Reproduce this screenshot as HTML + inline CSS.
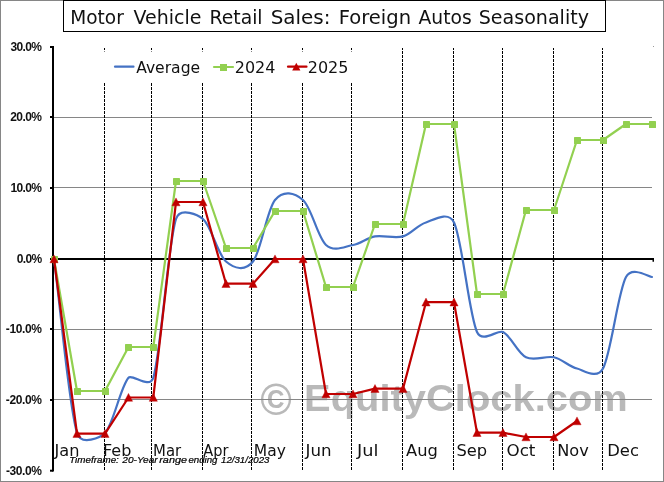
<!DOCTYPE html><html><head><meta charset="utf-8"><title>Motor Vehicle Retail Sales: Foreign Autos Seasonality</title>
<style>html,body{margin:0;padding:0;background:#fff}svg{display:block}</style></head><body>
<svg width="664" height="482" viewBox="0 0 664 482">
<rect x="0" y="0" width="664" height="482" fill="#fff"/>
<rect x="0.5" y="0.5" width="663" height="481" fill="none" stroke="#868686" stroke-width="1"/>
<text x="260.17" y="414.50" font-family="'Liberation Sans',sans-serif" font-size="44" fill="#b9b9b9" font-weight="bold" textLength="31.59" lengthAdjust="spacingAndGlyphs">©</text>
<text x="304.09" y="410.50" font-family="'Liberation Sans',sans-serif" font-size="36.8" fill="#b9b9b9" font-weight="bold" textLength="323.68" lengthAdjust="spacingAndGlyphs">EquityClock.com</text>
<line x1="54" x2="652" y1="117.5" y2="117.5" stroke="#868686" stroke-width="1"/>
<line x1="54" x2="652" y1="187.5" y2="187.5" stroke="#868686" stroke-width="1"/>
<line x1="54" x2="652" y1="329.5" y2="329.5" stroke="#868686" stroke-width="1"/>
<line x1="54" x2="652" y1="399.5" y2="399.5" stroke="#868686" stroke-width="1"/>
<line x1="104.5" x2="104.5" y1="48" y2="470" stroke="#000" stroke-width="1" stroke-dasharray="3 1" stroke-dashoffset="1"/>
<line x1="151.5" x2="151.5" y1="48" y2="470" stroke="#000" stroke-width="1" stroke-dasharray="3 1" stroke-dashoffset="1"/>
<line x1="202.5" x2="202.5" y1="48" y2="470" stroke="#000" stroke-width="1" stroke-dasharray="3 1" stroke-dashoffset="1"/>
<line x1="251.5" x2="251.5" y1="48" y2="470" stroke="#000" stroke-width="1" stroke-dasharray="3 1" stroke-dashoffset="1"/>
<line x1="302.5" x2="302.5" y1="48" y2="470" stroke="#000" stroke-width="1" stroke-dasharray="3 1" stroke-dashoffset="1"/>
<line x1="351.5" x2="351.5" y1="48" y2="470" stroke="#000" stroke-width="1" stroke-dasharray="3 1" stroke-dashoffset="1"/>
<line x1="402.5" x2="402.5" y1="48" y2="470" stroke="#000" stroke-width="1" stroke-dasharray="3 1" stroke-dashoffset="1"/>
<line x1="453.5" x2="453.5" y1="48" y2="470" stroke="#000" stroke-width="1" stroke-dasharray="3 1" stroke-dashoffset="1"/>
<line x1="502.5" x2="502.5" y1="48" y2="470" stroke="#000" stroke-width="1" stroke-dasharray="3 1" stroke-dashoffset="1"/>
<line x1="553.5" x2="553.5" y1="48" y2="470" stroke="#000" stroke-width="1" stroke-dasharray="3 1" stroke-dashoffset="1"/>
<line x1="602.5" x2="602.5" y1="48" y2="470" stroke="#000" stroke-width="1" stroke-dasharray="3 1" stroke-dashoffset="1"/>
<text x="54.51" y="455.60" font-family="'DejaVu Sans','Liberation Sans',sans-serif" font-size="16" fill="#111" textLength="24.93" lengthAdjust="spacingAndGlyphs">Jan</text>
<text x="103.00" y="455.60" font-family="'DejaVu Sans','Liberation Sans',sans-serif" font-size="16" fill="#111" textLength="28.33" lengthAdjust="spacingAndGlyphs">Feb</text>
<text x="153.10" y="455.60" font-family="'DejaVu Sans','Liberation Sans',sans-serif" font-size="16" fill="#111" textLength="28.09" lengthAdjust="spacingAndGlyphs">Mar</text>
<text x="203.27" y="455.60" font-family="'DejaVu Sans','Liberation Sans',sans-serif" font-size="16" fill="#111" textLength="25.17" lengthAdjust="spacingAndGlyphs">Apr</text>
<text x="253.80" y="455.60" font-family="'DejaVu Sans','Liberation Sans',sans-serif" font-size="16" fill="#111" textLength="32.01" lengthAdjust="spacingAndGlyphs">May</text>
<text x="305.53" y="455.60" font-family="'DejaVu Sans','Liberation Sans',sans-serif" font-size="16" fill="#111" textLength="26.02" lengthAdjust="spacingAndGlyphs">Jun</text>
<text x="357.08" y="455.60" font-family="'DejaVu Sans','Liberation Sans',sans-serif" font-size="16" fill="#111" textLength="21.40" lengthAdjust="spacingAndGlyphs">Jul</text>
<text x="406.00" y="455.60" font-family="'DejaVu Sans','Liberation Sans',sans-serif" font-size="16" fill="#111" textLength="31.78" lengthAdjust="spacingAndGlyphs">Aug</text>
<text x="456.48" y="455.60" font-family="'DejaVu Sans','Liberation Sans',sans-serif" font-size="16" fill="#111" textLength="30.69" lengthAdjust="spacingAndGlyphs">Sep</text>
<text x="506.45" y="455.60" font-family="'DejaVu Sans','Liberation Sans',sans-serif" font-size="16" fill="#111" textLength="28.99" lengthAdjust="spacingAndGlyphs">Oct</text>
<text x="557.24" y="455.60" font-family="'DejaVu Sans','Liberation Sans',sans-serif" font-size="16" fill="#111" textLength="31.50" lengthAdjust="spacingAndGlyphs">Nov</text>
<text x="607.21" y="455.60" font-family="'DejaVu Sans','Liberation Sans',sans-serif" font-size="16" fill="#111" textLength="31.78" lengthAdjust="spacingAndGlyphs">Dec</text>
<text stroke="#000" stroke-width="0.2" x="69.21" y="463.40" font-family="'Liberation Sans',sans-serif" font-size="8.3" fill="#000" font-style="italic" textLength="49.65" lengthAdjust="spacingAndGlyphs">Timeframe:</text>
<text stroke="#000" stroke-width="0.2" x="122.30" y="463.40" font-family="'Liberation Sans',sans-serif" font-size="8.3" fill="#000" font-style="italic" textLength="35.37" lengthAdjust="spacingAndGlyphs">20-Year</text>
<text stroke="#000" stroke-width="0.2" x="159.27" y="463.40" font-family="'Liberation Sans',sans-serif" font-size="8.3" fill="#000" font-style="italic" textLength="27.73" lengthAdjust="spacingAndGlyphs">range</text>
<text stroke="#000" stroke-width="0.2" x="188.51" y="463.40" font-family="'Liberation Sans',sans-serif" font-size="8.3" fill="#000" font-style="italic" textLength="28.99" lengthAdjust="spacingAndGlyphs">ending</text>
<text stroke="#000" stroke-width="0.2" x="221.01" y="463.40" font-family="'Liberation Sans',sans-serif" font-size="8.3" fill="#000" font-style="italic" textLength="48.43" lengthAdjust="spacingAndGlyphs">12/31/2023</text>
<rect x="653" y="46" width="1" height="1" fill="#9a9a9a"/>
<line x1="53" x2="53" y1="46" y2="471.5" stroke="#000" stroke-width="2"/>
<line x1="50" x2="53" y1="47.0" y2="47.0" stroke="#000" stroke-width="2"/>
<text x="10.45" y="50.80" font-family="'Liberation Sans',sans-serif" font-size="12" fill="#111" font-weight="bold" letter-spacing="-0.625">30.0%</text>
<line x1="50" x2="53" y1="117.0" y2="117.0" stroke="#000" stroke-width="2"/>
<text x="10.20" y="120.80" font-family="'Liberation Sans',sans-serif" font-size="12" fill="#111" font-weight="bold" letter-spacing="-0.562">20.0%</text>
<line x1="50" x2="53" y1="188.0" y2="188.0" stroke="#000" stroke-width="2"/>
<text x="10.45" y="191.80" font-family="'Liberation Sans',sans-serif" font-size="12" fill="#111" font-weight="bold" letter-spacing="-0.625">10.0%</text>
<line x1="50" x2="53" y1="259.0" y2="259.0" stroke="#000" stroke-width="2"/>
<text x="16.80" y="262.80" font-family="'Liberation Sans',sans-serif" font-size="12" fill="#111" font-weight="bold" letter-spacing="-0.700">0.0%</text>
<line x1="50" x2="53" y1="329.0" y2="329.0" stroke="#000" stroke-width="2"/>
<text x="5.80" y="332.80" font-family="'Liberation Sans',sans-serif" font-size="12" fill="#111" font-weight="bold" letter-spacing="-0.370">-10.0%</text>
<line x1="50" x2="53" y1="400.0" y2="400.0" stroke="#000" stroke-width="2"/>
<text x="5.80" y="403.80" font-family="'Liberation Sans',sans-serif" font-size="12" fill="#111" font-weight="bold" letter-spacing="-0.370">-20.0%</text>
<line x1="50" x2="53" y1="470.7" y2="470.7" stroke="#000" stroke-width="2"/>
<text x="6.00" y="474.50" font-family="'Liberation Sans',sans-serif" font-size="12" fill="#111" font-weight="bold" letter-spacing="-0.410">-30.0%</text>
<line x1="50" x2="654" y1="259" y2="259" stroke="#000" stroke-width="2"/>
<line x1="104.50" x2="104.50" y1="259" y2="261.7" stroke="#000" stroke-width="1.5"/>
<line x1="151.50" x2="151.50" y1="259" y2="261.7" stroke="#000" stroke-width="1.5"/>
<line x1="202.50" x2="202.50" y1="259" y2="261.7" stroke="#000" stroke-width="1.5"/>
<line x1="251.50" x2="251.50" y1="259" y2="261.7" stroke="#000" stroke-width="1.5"/>
<line x1="302.50" x2="302.50" y1="259" y2="261.7" stroke="#000" stroke-width="1.5"/>
<line x1="351.50" x2="351.50" y1="259" y2="261.7" stroke="#000" stroke-width="1.5"/>
<line x1="402.50" x2="402.50" y1="259" y2="261.7" stroke="#000" stroke-width="1.5"/>
<line x1="453.50" x2="453.50" y1="259" y2="261.7" stroke="#000" stroke-width="1.5"/>
<line x1="502.50" x2="502.50" y1="259" y2="261.7" stroke="#000" stroke-width="1.5"/>
<line x1="553.50" x2="553.50" y1="259" y2="261.7" stroke="#000" stroke-width="1.5"/>
<line x1="602.50" x2="602.50" y1="259" y2="261.7" stroke="#000" stroke-width="1.5"/>
<line x1="653.25" x2="653.25" y1="259" y2="261.7" stroke="#000" stroke-width="1.5"/>
<path d="M54.00 259.00 C61.67 317.00 68.50 404.00 77.00 433.00 C80.94 446.43 101.02 437.27 105.00 433.00 C113.58 423.78 120.45 386.92 128.50 377.70 C132.12 373.56 149.74 389.58 153.30 377.70 C161.22 351.25 167.72 245.45 176.00 219.00 C180.03 206.12 198.94 215.55 203.00 219.00 C211.33 226.08 217.67 254.42 226.00 261.50 C234.33 268.58 244.83 271.75 253.00 261.50 C261.17 251.25 266.67 210.25 275.00 200.00 C283.33 189.75 294.50 192.50 303.00 200.00 C311.50 207.50 317.67 237.50 326.00 245.00 C334.33 252.50 344.83 246.43 353.00 245.00 C361.17 243.57 366.67 237.83 375.00 236.40 C383.33 234.97 394.50 238.72 403.00 236.40 C411.50 234.08 417.50 224.82 426.00 222.50 C431.91 220.89 448.09 209.81 454.00 222.50 C462.50 240.75 468.83 313.75 477.00 332.00 C482.31 343.87 497.69 329.26 503.00 332.00 C511.17 336.22 517.50 353.08 526.00 357.30 C534.50 361.52 545.50 355.43 554.00 357.30 C562.50 359.17 568.83 366.63 577.00 368.50 C583.14 369.90 596.86 379.96 603.00 368.50 C611.17 353.25 617.83 292.25 626.00 277.00 C632.14 265.54 648.74 277.00 652.00 277.00" fill="none" stroke="#4472c4" stroke-width="2.2" stroke-linecap="round" stroke-linejoin="round"/>
<polyline points="54.00,259.00 77.00,391.00 105.00,391.00 128.50,347.00 153.30,347.00 176.00,181.00 203.00,181.00 226.00,248.00 253.00,248.00 275.00,211.00 303.00,211.00 326.00,287.00 353.00,287.00 375.00,224.00 403.00,224.00 426.00,124.00 454.00,124.00 477.00,294.00 503.00,294.00 526.00,210.00 554.00,210.00 577.00,140.00 603.00,140.00 626.00,124.00 652.00,124.00" fill="none" stroke="#92d050" stroke-width="2.2" stroke-linejoin="round" stroke-linecap="round"/>
<rect x="51.00" y="256.00" width="7" height="7" rx="0.6" fill="#92d050"/>
<rect x="74.00" y="388.00" width="7" height="7" rx="0.6" fill="#92d050"/>
<rect x="102.00" y="388.00" width="7" height="7" rx="0.6" fill="#92d050"/>
<rect x="125.00" y="344.00" width="7" height="7" rx="0.6" fill="#92d050"/>
<rect x="150.00" y="344.00" width="7" height="7" rx="0.6" fill="#92d050"/>
<rect x="173.00" y="178.00" width="7" height="7" rx="0.6" fill="#92d050"/>
<rect x="200.00" y="178.00" width="7" height="7" rx="0.6" fill="#92d050"/>
<rect x="223.00" y="245.00" width="7" height="7" rx="0.6" fill="#92d050"/>
<rect x="250.00" y="245.00" width="7" height="7" rx="0.6" fill="#92d050"/>
<rect x="272.00" y="208.00" width="7" height="7" rx="0.6" fill="#92d050"/>
<rect x="300.00" y="208.00" width="7" height="7" rx="0.6" fill="#92d050"/>
<rect x="323.00" y="284.00" width="7" height="7" rx="0.6" fill="#92d050"/>
<rect x="350.00" y="284.00" width="7" height="7" rx="0.6" fill="#92d050"/>
<rect x="372.00" y="221.00" width="7" height="7" rx="0.6" fill="#92d050"/>
<rect x="400.00" y="221.00" width="7" height="7" rx="0.6" fill="#92d050"/>
<rect x="423.00" y="121.00" width="7" height="7" rx="0.6" fill="#92d050"/>
<rect x="451.00" y="121.00" width="7" height="7" rx="0.6" fill="#92d050"/>
<rect x="474.00" y="291.00" width="7" height="7" rx="0.6" fill="#92d050"/>
<rect x="500.00" y="291.00" width="7" height="7" rx="0.6" fill="#92d050"/>
<rect x="523.00" y="207.00" width="7" height="7" rx="0.6" fill="#92d050"/>
<rect x="551.00" y="207.00" width="7" height="7" rx="0.6" fill="#92d050"/>
<rect x="574.00" y="137.00" width="7" height="7" rx="0.6" fill="#92d050"/>
<rect x="600.00" y="137.00" width="7" height="7" rx="0.6" fill="#92d050"/>
<rect x="623.00" y="121.00" width="7" height="7" rx="0.6" fill="#92d050"/>
<rect x="649.00" y="121.00" width="7" height="7" rx="0.6" fill="#92d050"/>
<polyline points="54.00,259.00 77.00,433.60 105.00,433.60 128.50,397.50 153.30,397.50 176.00,202.00 203.00,202.00 226.00,283.70 253.00,283.70 275.00,259.00 303.00,259.00 326.00,394.00 353.00,394.00 375.00,388.60 403.00,388.60 426.00,302.20 454.00,302.20 477.00,432.70 503.00,432.70 526.00,437.00 554.00,437.00 577.00,421.00" fill="none" stroke="#c00000" stroke-width="2.2" stroke-linejoin="round" stroke-linecap="round"/>
<polygon points="54.00,254.90 58.10,262.80 49.90,262.80" fill="#c00000" stroke="#c00000" stroke-width="0.4" stroke-linejoin="round"/>
<polygon points="77.00,429.50 81.10,437.40 72.90,437.40" fill="#c00000" stroke="#c00000" stroke-width="0.4" stroke-linejoin="round"/>
<polygon points="105.00,429.50 109.10,437.40 100.90,437.40" fill="#c00000" stroke="#c00000" stroke-width="0.4" stroke-linejoin="round"/>
<polygon points="128.50,393.40 132.60,401.30 124.40,401.30" fill="#c00000" stroke="#c00000" stroke-width="0.4" stroke-linejoin="round"/>
<polygon points="153.30,393.40 157.40,401.30 149.20,401.30" fill="#c00000" stroke="#c00000" stroke-width="0.4" stroke-linejoin="round"/>
<polygon points="176.00,197.90 180.10,205.80 171.90,205.80" fill="#c00000" stroke="#c00000" stroke-width="0.4" stroke-linejoin="round"/>
<polygon points="203.00,197.90 207.10,205.80 198.90,205.80" fill="#c00000" stroke="#c00000" stroke-width="0.4" stroke-linejoin="round"/>
<polygon points="226.00,279.60 230.10,287.50 221.90,287.50" fill="#c00000" stroke="#c00000" stroke-width="0.4" stroke-linejoin="round"/>
<polygon points="253.00,279.60 257.10,287.50 248.90,287.50" fill="#c00000" stroke="#c00000" stroke-width="0.4" stroke-linejoin="round"/>
<polygon points="275.00,254.90 279.10,262.80 270.90,262.80" fill="#c00000" stroke="#c00000" stroke-width="0.4" stroke-linejoin="round"/>
<polygon points="303.00,254.90 307.10,262.80 298.90,262.80" fill="#c00000" stroke="#c00000" stroke-width="0.4" stroke-linejoin="round"/>
<polygon points="326.00,389.90 330.10,397.80 321.90,397.80" fill="#c00000" stroke="#c00000" stroke-width="0.4" stroke-linejoin="round"/>
<polygon points="353.00,389.90 357.10,397.80 348.90,397.80" fill="#c00000" stroke="#c00000" stroke-width="0.4" stroke-linejoin="round"/>
<polygon points="375.00,384.50 379.10,392.40 370.90,392.40" fill="#c00000" stroke="#c00000" stroke-width="0.4" stroke-linejoin="round"/>
<polygon points="403.00,384.50 407.10,392.40 398.90,392.40" fill="#c00000" stroke="#c00000" stroke-width="0.4" stroke-linejoin="round"/>
<polygon points="426.00,298.10 430.10,306.00 421.90,306.00" fill="#c00000" stroke="#c00000" stroke-width="0.4" stroke-linejoin="round"/>
<polygon points="454.00,298.10 458.10,306.00 449.90,306.00" fill="#c00000" stroke="#c00000" stroke-width="0.4" stroke-linejoin="round"/>
<polygon points="477.00,428.60 481.10,436.50 472.90,436.50" fill="#c00000" stroke="#c00000" stroke-width="0.4" stroke-linejoin="round"/>
<polygon points="503.00,428.60 507.10,436.50 498.90,436.50" fill="#c00000" stroke="#c00000" stroke-width="0.4" stroke-linejoin="round"/>
<polygon points="526.00,432.90 530.10,440.80 521.90,440.80" fill="#c00000" stroke="#c00000" stroke-width="0.4" stroke-linejoin="round"/>
<polygon points="554.00,432.90 558.10,440.80 549.90,440.80" fill="#c00000" stroke="#c00000" stroke-width="0.4" stroke-linejoin="round"/>
<polygon points="577.00,416.90 581.10,424.80 572.90,424.80" fill="#c00000" stroke="#c00000" stroke-width="0.4" stroke-linejoin="round"/>
<rect x="100" y="51.5" width="258" height="31" fill="#fff"/>
<line x1="115" x2="133.5" y1="66.7" y2="66.7" stroke="#4472c4" stroke-width="2.2" stroke-linecap="round"/>
<text x="136.16" y="72.60" font-family="'DejaVu Sans','Liberation Sans',sans-serif" font-size="16" fill="#111" textLength="63.97" lengthAdjust="spacingAndGlyphs">Average</text>
<line x1="214" x2="233" y1="67" y2="67" stroke="#92d050" stroke-width="2.2" stroke-linecap="round"/>
<rect x="220" y="64" width="7" height="7" fill="#92d050"/>
<text x="234.75" y="72.60" font-family="'DejaVu Sans','Liberation Sans',sans-serif" font-size="16" fill="#111" textLength="40.61" lengthAdjust="spacingAndGlyphs">2024</text>
<line x1="288" x2="306.5" y1="66.7" y2="66.7" stroke="#c00000" stroke-width="2.2" stroke-linecap="round"/>
<polygon points="296.3,62.8 300.4,70.5 292.2,70.5" fill="#c00000"/>
<text x="307.75" y="72.60" font-family="'DejaVu Sans','Liberation Sans',sans-serif" font-size="16" fill="#111" textLength="40.72" lengthAdjust="spacingAndGlyphs">2025</text>
<rect x="63.5" y="0.5" width="542" height="31" fill="#fff" stroke="#000" stroke-width="1"/>
<text x="70.28" y="23.75" font-family="'DejaVu Sans','Liberation Sans',sans-serif" font-size="18.8" fill="#111" textLength="53.51" lengthAdjust="spacingAndGlyphs">Motor</text>
<text x="133.50" y="23.75" font-family="'DejaVu Sans','Liberation Sans',sans-serif" font-size="18.8" fill="#111" textLength="67.94" lengthAdjust="spacingAndGlyphs">Vehicle</text>
<text x="209.50" y="23.75" font-family="'DejaVu Sans','Liberation Sans',sans-serif" font-size="18.8" fill="#111" textLength="53.08" lengthAdjust="spacingAndGlyphs">Retail</text>
<text x="270.67" y="23.75" font-family="'DejaVu Sans','Liberation Sans',sans-serif" font-size="18.8" fill="#111" textLength="59.78" lengthAdjust="spacingAndGlyphs">Sales:</text>
<text x="338.68" y="23.75" font-family="'DejaVu Sans','Liberation Sans',sans-serif" font-size="18.8" fill="#111" textLength="72.42" lengthAdjust="spacingAndGlyphs">Foreign</text>
<text x="418.50" y="23.75" font-family="'DejaVu Sans','Liberation Sans',sans-serif" font-size="18.8" fill="#111" textLength="53.15" lengthAdjust="spacingAndGlyphs">Autos</text>
<text x="478.73" y="23.75" font-family="'DejaVu Sans','Liberation Sans',sans-serif" font-size="18.8" fill="#111" textLength="110.27" lengthAdjust="spacingAndGlyphs">Seasonality</text>
</svg></body></html>
